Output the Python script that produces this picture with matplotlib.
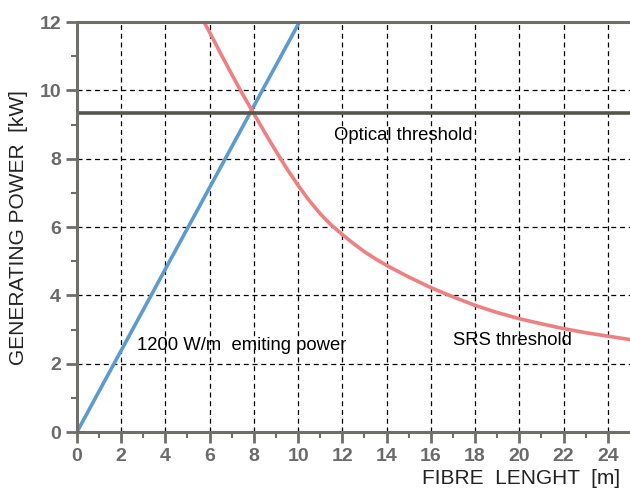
import matplotlib.pyplot as plt
import numpy as np

plt.rcParams['font.family'] = ['Liberation Sans', 'DejaVu Sans']

# emitting power line, 1200 W/m
emit_x = [0, 10.06]
emit_y = [0, 12]

# SRS threshold curve
srs_x = [5.75, 6.0, 6.5, 7.0, 7.5, 8.0, 8.5, 9.0, 9.5, 10.0, 10.5, 11.0, 11.5,
         12.0, 12.5, 13.0, 13.5, 14.0, 15.0, 16.0, 17.0, 18.0, 19.0, 20.0,
         21.0, 22.0, 23.0, 24.0, 25.0]
srs_y = [12.0, 11.7, 11.08, 10.47, 9.88, 9.32, 8.76, 8.22, 7.70, 7.22, 6.78,
         6.39, 6.06, 5.78, 5.52, 5.28, 5.07, 4.88, 4.54, 4.23, 3.96, 3.71,
         3.50, 3.32, 3.17, 3.03, 2.91, 2.81, 2.71]

optical_threshold = 9.33

x_ticks = np.arange(0, 25, 2)
y_ticks = np.arange(0, 13, 2)

fig = plt.figure(figsize=(6.3, 4.9), dpi=100)
ax = fig.add_axes([0.122, 0.118, 0.878, 0.837])

grey = '#6e6e6a'
ax.grid(True, color='black', linestyle=(0, (4, 3)), linewidth=0.9)
ax.set_axisbelow(True)

ax.plot(emit_x, emit_y, color='#5b9bd0', lw=2.6, solid_capstyle='round')
ax.plot(srs_x, srs_y, color='#ef7f80', lw=2.6, solid_joinstyle='round')
ax.axhline(optical_threshold, color='#55554e', lw=2.6)

ax.text(11.6, 8.68, 'Optical threshold', fontsize=13.3, va='center')
ax.text(2.7, 2.54, '1200 W/m  emiting power', fontsize=13.3, va='center')
ax.text(17.0, 2.69, 'SRS threshold', fontsize=13.3, va='center')

ax.set_xlim(0, 25)
ax.set_ylim(0, 12)
ax.set_xticks(x_ticks)
ax.set_yticks(y_ticks)
ax.set_xticks(np.arange(1, 25, 2), minor=True)
ax.set_yticks(np.arange(1, 12, 2), minor=True)
ax.tick_params(which='major', length=8, width=2, color=grey, labelcolor='#6a6a6a',
               labelsize=14)
ax.tick_params(which='minor', length=4, width=1.5, color=grey)
for lab in ax.get_xticklabels() + ax.get_yticklabels():
    lab.set_fontweight('bold')

ax.spines['right'].set_visible(False)
for s in ['left', 'bottom', 'top']:
    ax.spines[s].set_color(grey)
    ax.spines[s].set_linewidth(2.2)

ax.set_ylabel('GENERATING POWER  [kW]', fontsize=15, color='#222222', labelpad=8)
fig.text(0.985, 0.005, 'FIBRE  LENGHT  [m]', fontsize=15, color='#222222',
         ha='right', va='bottom')

fig.savefig('out.png', dpi=100)
